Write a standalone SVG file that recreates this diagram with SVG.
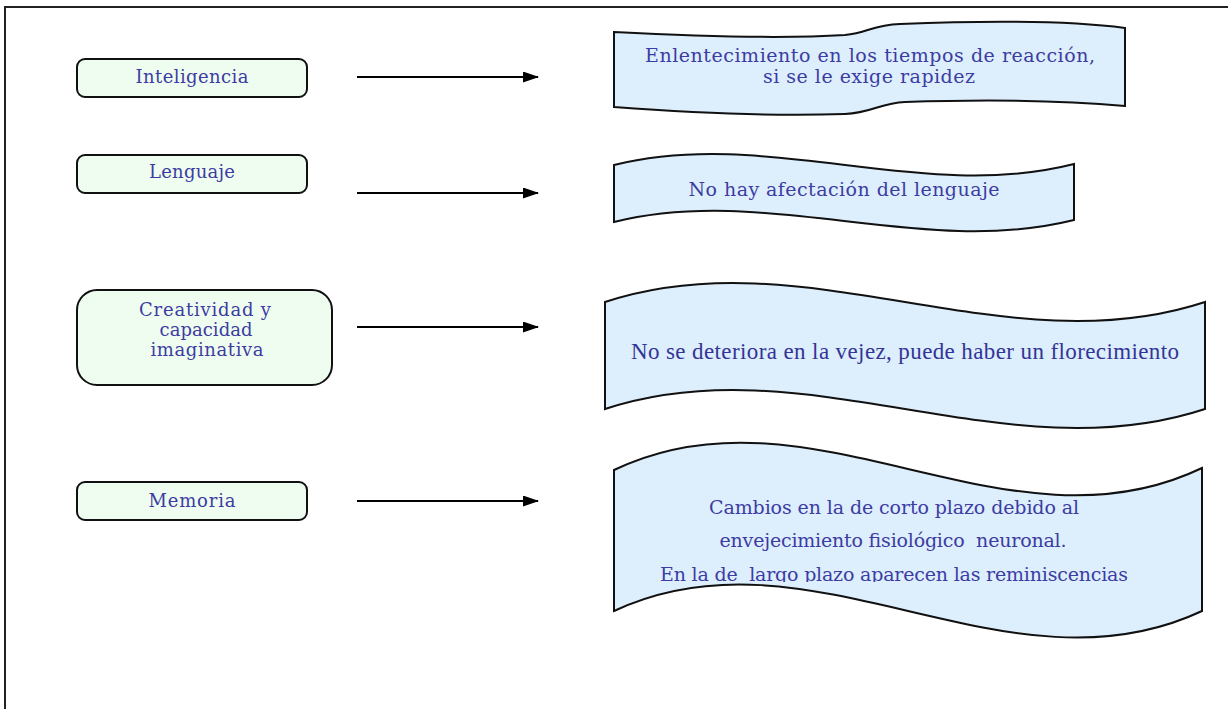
<svg xmlns="http://www.w3.org/2000/svg" width="1228" height="709" viewBox="0 0 1228 709">
<style>
.node{fill:#effdf0;stroke:#111;stroke-width:2}
.wave{fill:#ddeefd;stroke:#111;stroke-width:2;stroke-linejoin:miter}
.lbl{font-family:"DejaVu Serif","Liberation Serif",serif;fill:#3c3ca2;text-anchor:middle;white-space:pre}
.conn{stroke:#000;stroke-width:2;fill:none;marker-end:url(#ah)}
</style>
<defs>
<marker id="ah" markerWidth="16" markerHeight="12" refX="15" refY="5.5" orient="auto" markerUnits="userSpaceOnUse">
<path d="M0,0 L16,5.5 L0,11 Z" fill="#000"/>
</marker>
<clipPath id="clip4"><rect x="600" y="430" width="620" height="152"/></clipPath>
</defs>
<rect x="0" y="0" width="1228" height="709" fill="#fff"/>
<g id="frame" fill="none" stroke="#222" stroke-width="2">
<path d="M5,709 L5,7 L1228,7"/>
</g>
<g id="connectors">
<line class="conn" x1="357" y1="77" x2="538" y2="77"/>
<line class="conn" x1="357" y1="193" x2="538" y2="193"/>
<line class="conn" x1="357" y1="327" x2="538" y2="327"/>
<line class="conn" x1="357" y1="501" x2="538" y2="501"/>
</g>
<g id="n-inteligencia">
<rect class="node" x="77" y="59" width="230" height="38" rx="8"/>
<text class="lbl" x="192" y="83" font-size="18" textLength="113">Inteligencia</text>
</g>
<g id="n-lenguaje">
<rect class="node" x="77" y="155" width="230" height="38" rx="8"/>
<text class="lbl" x="192" y="178" font-size="18" textLength="86">Lenguaje</text>
</g>
<g id="n-creatividad">
<rect class="node" x="77" y="290" width="255" height="95" rx="20"/>
<text class="lbl" x="205" y="316" font-size="18" textLength="132">Creatividad y</text>
<text class="lbl" x="206" y="336" font-size="18" textLength="93">capacidad</text>
<text class="lbl" x="207" y="356" font-size="18" textLength="113">imaginativa</text>
</g>
<g id="n-memoria">
<rect class="node" x="77" y="482" width="230" height="38" rx="8"/>
<text class="lbl" x="192" y="507" font-size="18" textLength="87">Memoria</text>
</g>
<g id="r-inteligencia">
<path class="wave" d="M614,32 C690,36 780,39 845,35 C868,33 872,25 900,24 C1000,20 1080,22 1125,28 L1125,106 C1070,101 990,99 905,102 C880,103 872,113 845,114 C760,117 680,112 614,107 Z"/>
<text class="lbl" x="870" y="62" font-size="19" textLength="450">Enlentecimiento en los tiempos de reacción,</text>
<text class="lbl" x="869" y="83" font-size="19" textLength="212">si se le exige rapidez</text>
</g>
<g id="r-lenguaje">
<path class="wave" d="M614,165 C767,127 921,203 1074,164 L1074,220 C921,258 767,184 614,222 Z"/>
<text class="lbl" x="844" y="196" font-size="19" textLength="311">No hay afectación del lenguaje</text>
</g>
<g id="r-creatividad">
<path class="wave" d="M605,302 C805,236 1005,368 1205,302 L1205,409 C1005,475 805,343 605,409 Z" fill="#d8eefc"/>
<text x="905" y="359" font-family="Liberation Serif, serif" font-size="23" fill="#343497" text-anchor="middle" textLength="548">No se deteriora en la vejez, puede haber un florecimiento</text>
</g>
<g id="r-memoria">
<path class="wave" d="M614,470 C810,376 1006,562 1202,468 L1202,611 C1006,703 810,519 614,611 Z"/>
<text class="lbl" x="894" y="514" font-size="19" textLength="370">Cambios en la de corto plazo debido al</text>
<text class="lbl" x="893" y="547" font-size="19" textLength="347">envejecimiento fisiológico  neuronal.</text>
<g clip-path="url(#clip4)">
<text class="lbl" x="894" y="581" font-size="19" textLength="468">En la de  largo plazo aparecen las reminiscencias</text>
</g>
</g>
</svg>
